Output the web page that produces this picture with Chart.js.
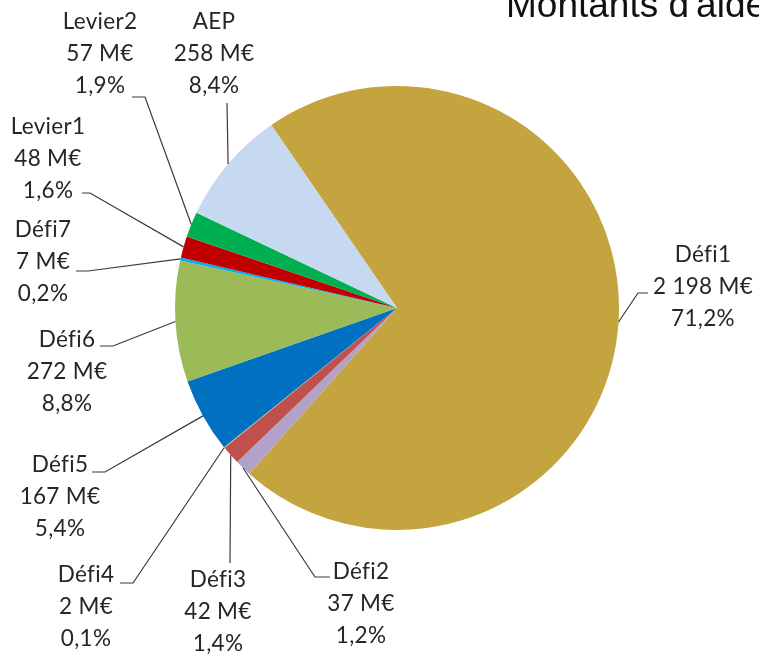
<!DOCTYPE html>
<html>
<head>
<meta charset="utf-8">
<script src="https://cdn.jsdelivr.net/npm/chart.js@4.4.1/dist/chart.umd.min.js"></script>
<style>
html,body{margin:0;padding:0;background:#fff;}
#wrap{width:759px;height:656px;position:relative;}
</style>
</head>
<body>
<div id="wrap"><canvas id="c" width="759" height="656"></canvas></div>
<script>
// ---- data ----
const categories = ["Défi1","Défi2","Défi3","Défi4","Défi5","Défi6","Défi7","Levier1","Levier2","AEP"];
const amounts = [2198, 37, 42, 2, 167, 272, 7, 48, 57, 258];          // M€
const amountLabels = ["2 198 M€","37 M€","42 M€","2 M€","167 M€","272 M€","7 M€","48 M€","57 M€","258 M€"];
const percentLabels = ["71,2%","1,2%","1,4%","0,1%","5,4%","8,8%","0,2%","1,6%","1,9%","8,4%"];
const sliceColors = ["#C4A43F","#B3A2C7","#C0504D","#C9C27A","#0070C0","#9BBB59","#00B0F0","#C00000","#00B050","#C6D9F1"];
const titleText = "Montants d'aide";

// ---- label layout (text block centre x, first line y, leader points from label side) ----
const labelLayout = [
  {cx:703, y:255, leader:[[648,293],[638,293]]},
  {cx:361, y:572, leader:[[330,577],[315,577]]},
  {cx:218, y:580, leader:[[230,563]]},
  {cx:86,  y:575, leader:[[120,583],[133,583]]},
  {cx:60,  y:465, leader:[[92,472],[105,472]]},
  {cx:67,  y:340, leader:[[100,346],[113,346]]},
  {cx:43,  y:230, leader:[[76,271],[88,271]]},
  {cx:48,  y:127, leader:[[82,193],[90,193]]},
  {cx:100, y:22,  leader:[[132,97],[145,97]]},
  {cx:214, y:22,  leader:[[227,103]]}
];
const lineGap = 32;

const labelPlugin = {
  id:'pieLabels',
  afterDatasetsDraw(chart){
    const ctx = chart.ctx;
    const meta = chart.getDatasetMeta(0);
    ctx.save();
    meta.data.forEach((arc,i)=>{
      const p = arc.getProps(['x','y','startAngle','endAngle','outerRadius'],true);
      const mid = (p.startAngle+p.endAngle)/2;
      const ex = p.x + Math.cos(mid)*p.outerRadius;
      const ey = p.y + Math.sin(mid)*p.outerRadius;
      const L = labelLayout[i];
      ctx.strokeStyle = '#3a3a3a';
      ctx.lineWidth = 1.2;
      ctx.beginPath();
      ctx.moveTo(ex,ey);
      for(let k=L.leader.length-1;k>=0;k--) ctx.lineTo(L.leader[k][0],L.leader[k][1]);
      ctx.stroke();
      ctx.fillStyle = '#262626';
      ctx.font = '22.5px Lato';
      if ('letterSpacing' in ctx) ctx.letterSpacing = '0.3px';
      ctx.textAlign = 'center';
      ctx.textBaseline = 'middle';
      const lines = [categories[i], amountLabels[i], percentLabels[i]];
      lines.forEach((t,j)=>ctx.fillText(t, L.cx, L.y + j*lineGap));
    });
    ctx.restore();
  }
};

const titlePlugin = {
  id:'cutTitle',
  afterDraw(chart){
    const ctx = chart.ctx;
    ctx.save();
    ctx.fillStyle = '#111';
    ctx.font = '37px "Liberation Sans"';
    ctx.textAlign = 'left';
    ctx.textBaseline = 'alphabetic';
    ctx.fillText(titleText, 506, 16.5);
    ctx.restore();
  }
};

new Chart(document.getElementById('c'), {
  type:'pie',
  data:{
    labels: categories,
    datasets:[{
      data: amounts,
      backgroundColor: sliceColors,
      borderWidth: 0
    }]
  },
  options:{
    responsive:false,
    animation:false,
    rotation:-34.5,
    layout:{padding:{left:175,right:140,top:86,bottom:126}},
    plugins:{legend:{display:false},tooltip:{enabled:false},title:{display:false}}
  },
  plugins:[labelPlugin,titlePlugin]
});
</script>
</body>
</html>
